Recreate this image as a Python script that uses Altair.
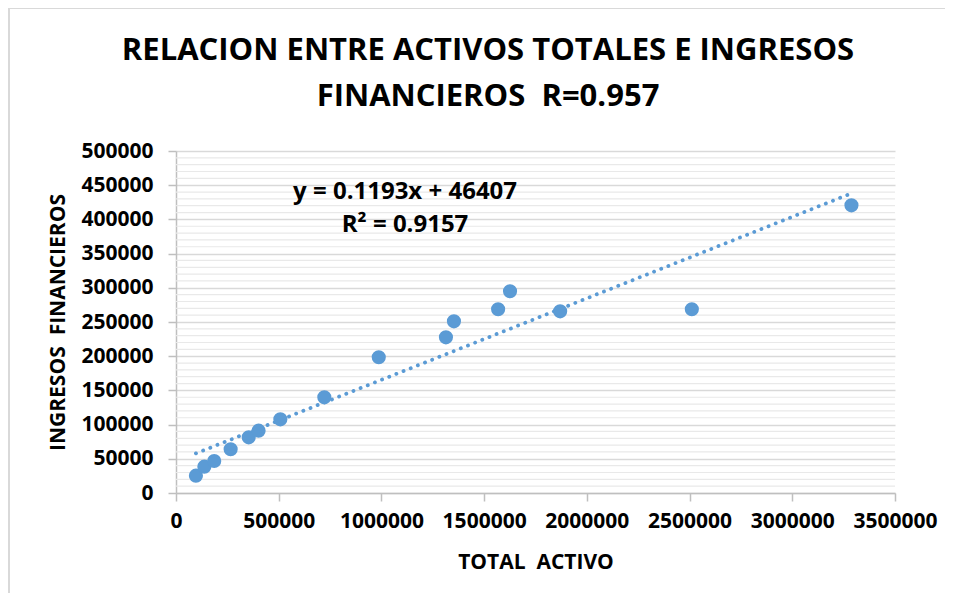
import altair as alt
import pandas as pd

# Data
total_activo = [97000, 138000, 186000, 266000, 354000, 402000, 508000, 722000,
                987000, 1314000, 1353000, 1568000, 1626000, 1870000, 2511000, 3288000]
ingresos_fin = [25300, 38500, 46800, 63900, 81400, 91100, 107700, 139900,
                198400, 227600, 251000, 268600, 294900, 265600, 268600, 420600]

y_major_ticks = [0, 50000, 100000, 150000, 200000, 250000, 300000, 350000, 400000, 450000, 500000]
x_ticks = [0, 500000, 1000000, 1500000, 2000000, 2500000, 3000000, 3500000]
y_minor_ticks = [v for v in range(10000, 500000, 10000) if v % 50000 != 0]

eq_lines = ["y = 0.1193x + 46407", "R\u00b2 = 0.9157"]
eq_x = [1115000, 1115000]
eq_y = [440000, 392000]

title_lines = ["RELACION ENTRE ACTIVOS TOTALES E INGRESOS", "FINANCIEROS\u00a0\u00a0R=0.957"]

df = pd.DataFrame({"x": total_activo, "y": ingresos_fin})
minor_df = pd.DataFrame({"v": y_minor_ticks})
eq_df = pd.DataFrame({"t": eq_lines, "x": eq_x, "y": eq_y})
title_df = pd.DataFrame({"t": title_lines, "row": [0, 1]})

FONT = "Open Sans"
BLUE = "#5b9bd5"
GRID = "#d9d9d9"

xscale = alt.Scale(domain=[0, 3500000], nice=False, zero=True)
yscale = alt.Scale(domain=[0, 500000], nice=False, zero=True)

xaxis = alt.Axis(values=x_ticks, format="d", grid=False, domainColor="#bfbfbf", domainWidth=1.5,
                 tickColor="#bfbfbf", tickWidth=1.5, tickSize=8, labelPadding=9,
                 labelFont=FONT, labelFontSize=21, labelFontWeight="bold", labelColor="#000000",
                 title="TOTAL\u00a0\u00a0ACTIVO", titleFont=FONT, titleFontSize=21, titleFontWeight="bold",
                 titleColor="#000000", titlePadding=20, labelFlush=False)
yaxis = alt.Axis(values=y_major_ticks, format="d", grid=True, gridColor=GRID, gridWidth=1.5,
                 domainColor="#bfbfbf", domainWidth=1.5, tickColor="#bfbfbf", tickWidth=1.5,
                 tickSize=8, labelPadding=15, labelFont=FONT, labelFontSize=21,
                 labelFontWeight="bold", labelColor="#000000",
                 title="INGRESOS\u00a0\u00a0FINANCIEROS", titleFont=FONT, titleFontSize=21,
                 titleFontWeight="bold", titleColor="#000000", titlePadding=12, labelFlush=False)

minor = alt.Chart(minor_df).mark_rule(color="#e9e9e9", strokeWidth=1.2).encode(
    y=alt.Y("v:Q", scale=yscale, axis=yaxis)
)

trend = alt.Chart(df).transform_regression("x", "y").mark_line(
    color=BLUE, strokeWidth=3.8, strokeDash=[0.1, 7.6], strokeCap="round"
).encode(
    x=alt.X("x:Q", scale=xscale, axis=xaxis),
    y=alt.Y("y:Q", scale=yscale, axis=yaxis),
)

points = alt.Chart(df).mark_circle(color=BLUE, size=200, opacity=1).encode(
    x=alt.X("x:Q", scale=xscale, axis=xaxis),
    y=alt.Y("y:Q", scale=yscale, axis=yaxis),
)

eq = alt.Chart(eq_df).mark_text(font=FONT, fontSize=24, fontWeight="bold", color="#000000",
                                align="center", baseline="middle").encode(
    x=alt.X("x:Q", scale=xscale, axis=xaxis),
    y=alt.Y("y:Q", scale=yscale, axis=yaxis),
    text="t:N",
)

title = alt.Chart(title_df).mark_text(font=FONT, fontSize=31, fontWeight="bold", color="#000000",
                                      align="center", baseline="middle").encode(
    x=alt.value(312),
    y=alt.YValue(alt.ExprRef("-100 + datum.row * 46")),
    text="t:N",
)

border_left = alt.Chart(minor_df.head(1)).mark_rule(color="#d9d9d9", strokeWidth=2).encode(
    x=alt.value(-167), y=alt.value(-143), y2=alt.value(460)
)
border_top = alt.Chart(minor_df.head(1)).mark_rule(color="#d9d9d9", strokeWidth=2).encode(
    x=alt.value(-167), x2=alt.value(790), y=alt.value(-143)
)

chart = alt.layer(minor, trend, points, eq, title, border_left, border_top).properties(
    width=719, height=342,
    autosize=alt.AutoSizeParams(type="none"),
    padding={"left": 168, "top": 143, "right": 50, "bottom": 100},
).configure_view(stroke=None)

chart.save("out.html", embed_options={"renderer": "svg", "actions": False})
